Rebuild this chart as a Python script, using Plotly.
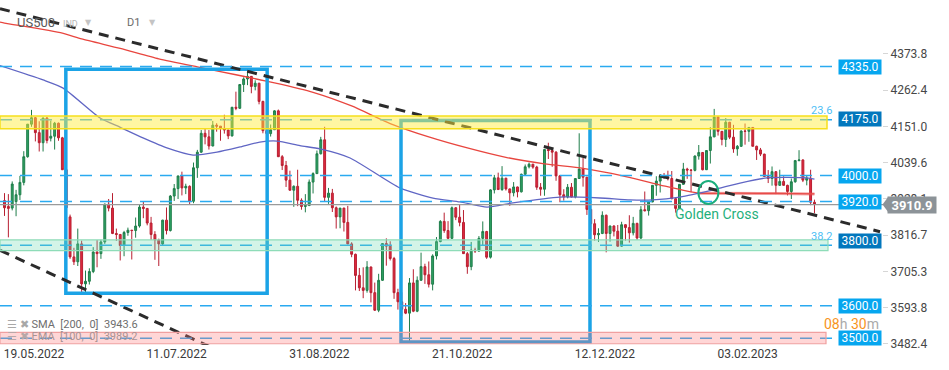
import plotly.graph_objects as go
import pandas as pd

# ---------------- data ----------------
opens = [3923, 3905, 3900, 3920, 3941, 3979, 4058, 4158, 4178, 4132,
         4101, 4177, 4115, 4121, 4161, 4116, 4018, 3873, 3750, 3735,
         3790, 3667, 3675, 3705, 3765, 3760, 3796, 3912, 3900, 3822,
         3819, 3785, 3825, 3832, 3831, 3845, 3903, 3899, 3854, 3819,
         3802, 3790, 3863, 3831, 3937, 3960, 3999, 3962, 3967, 3921,
         4024, 4072, 4130, 4119, 4091, 4155, 4152, 4145, 4140, 4122,
         4210, 4207, 4280, 4297, 4305, 4274, 4284, 4228, 4138, 4129,
         4141, 4199, 4058, 4031, 3986, 3955, 3967, 3924, 3905, 3908,
         3980, 4006, 4067, 4110, 3933, 3946, 3901, 3873, 3900, 3856,
         3790, 3758, 3693, 3655, 3647, 3719, 3640, 3586, 3678, 3791,
         3783, 3745, 3640, 3612, 3589, 3577, 3670, 3583, 3678, 3720,
         3695, 3666, 3753, 3797, 3859, 3831, 3807, 3901, 3872, 3856,
         3760, 3720, 3771, 3768, 3807, 3828, 3749, 3956, 3993, 3957,
         3992, 3959, 3947, 3965, 3950, 4004, 4027, 4035, 4026, 3964,
         3958, 4080, 4077, 4072, 3999, 3941, 3934, 3964, 3934, 3991,
         4020, 3995, 3896, 3852, 3818, 3822, 3878, 3822, 3845, 3829,
         3783, 3849, 3840, 3824, 3853, 3808, 3895, 3892, 3919, 3970,
         3983, 3999, 3996, 3991, 3929, 3899, 3973, 4020, 4017, 4016,
         4060, 4071, 4018, 4077, 4119, 4180, 4136, 4111, 4164, 4118,
         4082, 4090, 4137, 4136, 4148, 4090, 4079, 4066, 3997, 3991,
         4012, 3970, 3982, 3970, 3951, 3981, 4046, 4048, 3986, 3992,
         3918]
highs = [3946, 3943, 3982, 3956, 3999, 4075, 4158, 4202, 4180, 4167,
         4178, 4180, 4169, 4165, 4163, 4119, 4020, 3880, 3778, 3837,
         3800, 3708, 3715, 3780, 3802, 3803, 3914, 3928, 3946, 3837,
         3819, 3830, 3840, 3833, 3871, 3911, 3919, 3900, 3873, 3829,
         3806, 3864, 3902, 3940, 3974, 3999, 4012, 3975, 3970, 4040,
         4079, 4140, 4145, 4140, 4168, 4161, 4152, 4187, 4141, 4211,
         4258, 4281, 4302, 4325, 4306, 4293, 4285, 4230, 4160, 4157,
         4201, 4203, 4063, 4045, 4015, 3970, 4018, 3930, 3943, 3988,
         4010, 4077, 4119, 4150, 3962, 3959, 3905, 3900, 3901, 3907,
         3795, 3760, 3716, 3718, 3737, 3720, 3671, 3698, 3792, 3807,
         3798, 3750, 3652, 3641, 3608, 3685, 3712, 3690, 3763, 3729,
         3736, 3758, 3811, 3863, 3886, 3860, 3905, 3903, 3912, 3894,
         3765, 3796, 3778, 3814, 3859, 3830, 3958, 4002, 4009, 4029,
         3993, 3960, 3980, 3966, 4006, 4034, 4040, 4036, 4030, 3977,
         4080, 4101, 4081, 4075, 4002, 3958, 3974, 3977, 3991, 4130,
         4054, 3996, 3897, 3866, 3838, 3890, 3880, 3846, 3847, 3848,
         3858, 3850, 3878, 3873, 3855, 3906, 3951, 3920, 3970, 3998,
         4004, 4008, 4015, 4014, 3930, 3973, 4039, 4024, 4020, 4062,
         4094, 4072, 4077, 4149, 4205, 4182, 4137, 4177, 4165, 4156,
         4094, 4139, 4160, 4148, 4149, 4092, 4085, 4067, 4017, 4028,
         4013, 4018, 3998, 3972, 3991, 4048, 4078, 4050, 4000, 4018,
         3926]
lows = [3876, 3810, 3893, 3875, 3925, 3970, 4055, 4150, 4105, 4074,
        4074, 4099, 4105, 4080, 4107, 4017, 3900, 3744, 3725, 3722,
        3640, 3637, 3665, 3700, 3718, 3744, 3790, 3890, 3820, 3799,
        3739, 3752, 3815, 3742, 3809, 3840, 3869, 3847, 3802, 3741,
        3722, 3785, 3819, 3828, 3922, 3928, 3939, 3943, 3911, 3915,
        3993, 4070, 4096, 4080, 4090, 4135, 4107, 4129, 4112, 4120,
        4201, 4205, 4257, 4278, 4253, 4262, 4219, 4130, 4124, 4120,
        4140, 4057, 4017, 3965, 3954, 3904, 3906, 3895, 3887, 3906,
        3945, 4005, 4065, 3921, 3913, 3888, 3837, 3838, 3828, 3789,
        3749, 3647, 3645, 3623, 3640, 3610, 3584, 3580, 3676, 3723,
        3739, 3621, 3588, 3568, 3574, 3492, 3580, 3580, 3677, 3667,
        3656, 3647, 3742, 3795, 3824, 3804, 3805, 3863, 3844, 3759,
        3698, 3709, 3762, 3765, 3786, 3744, 3745, 3945, 3956, 3953,
        3954, 3907, 3936, 3933, 3948, 3999, 4022, 4021, 3956, 3938,
        3938, 4051, 4027, 3984, 3918, 3923, 3930, 3933, 3930, 3993,
        3966, 3879, 3828, 3800, 3796, 3820, 3764, 3797, 3813, 3781,
        3782, 3800, 3794, 3816, 3802, 3805, 3890, 3877, 3918, 3938,
        3948, 3990, 3985, 3927, 3886, 3898, 3972, 3990, 3949, 4013,
        4049, 4016, 4020, 4037, 4118, 4123, 4093, 4088, 4112, 4070,
        4061, 4088, 4095, 4104, 4090, 4048, 4060, 3997, 3977, 3969,
        3943, 3968, 3969, 3939, 3928, 3978, 4044, 3980, 3970, 3909,
        3884]
closes = [3901, 3899, 3974, 3941, 3979, 4058, 4158, 4178, 4132, 4101,
          4177, 4108, 4121, 4161, 4116, 4018, 3901, 3750, 3735, 3790,
          3667, 3675, 3705, 3765, 3760, 3796, 3912, 3900, 3822, 3819,
          3785, 3825, 3832, 3831, 3845, 3903, 3899, 3854, 3819, 3802,
          3790, 3863, 3831, 3937, 3960, 3999, 3962, 3967, 3921, 4024,
          4072, 4130, 4119, 4091, 4155, 4152, 4145, 4140, 4122, 4210,
          4207, 4280, 4297, 4305, 4274, 4284, 4228, 4138, 4129, 4141,
          4199, 4058, 4031, 3986, 3955, 3967, 3924, 3905, 3908, 3980,
          4006, 4067, 4110, 3933, 3946, 3901, 3873, 3900, 3856, 3790,
          3758, 3693, 3655, 3647, 3719, 3640, 3586, 3678, 3791, 3783,
          3745, 3640, 3612, 3589, 3577, 3670, 3583, 3678, 3720, 3695,
          3666, 3753, 3797, 3859, 3831, 3807, 3901, 3872, 3856, 3760,
          3720, 3771, 3768, 3807, 3828, 3749, 3956, 3993, 3957, 3992,
          3959, 3947, 3965, 3950, 4004, 4027, 4035, 4026, 3964, 3958,
          4080, 4077, 4072, 3999, 3941, 3934, 3964, 3934, 3991, 4020,
          3995, 3896, 3852, 3818, 3822, 3878, 3822, 3845, 3829, 3783,
          3849, 3840, 3824, 3853, 3808, 3895, 3892, 3919, 3970, 3983,
          3999, 3996, 3991, 3929, 3899, 3973, 4020, 4017, 4016, 4060,
          4071, 4018, 4077, 4119, 4180, 4136, 4111, 4164, 4118, 4082,
          4090, 4137, 4136, 4148, 4090, 4079, 4066, 3997, 3991, 4012,
          3970, 3982, 3970, 3951, 3981, 4046, 4048, 3986, 3992, 3918,
          3910.9]

# moving averages (bar index, price)
sma200_bar = [-1.2, 0, 15, 20, 30, 40, 50, 60, 70, 80, 90, 100, 110, 120,
              130, 140, 150, 160, 170, 180, 190, 200, 210]
sma200_val = [4472, 4469, 4438, 4420, 4391, 4359, 4334, 4310, 4285, 4256,
              4214, 4160, 4119, 4085, 4056, 4036, 4022, 4000, 3971, 3946,
              3946, 3945, 3943.6]
ema100_bar = [-1.2, 10, 15.2, 24.8, 29.9, 35.9, 42.1, 48.9, 55.1, 61.1,
              66.2, 70.7, 76.6, 81.8, 89.6, 102.5, 111.1, 118.1, 125.1,
              131.8, 144, 154.4, 162.2, 168.1, 175.1, 183.7, 190.7, 197.7,
              208.1, 210]
ema100_val = [4338, 4294, 4269, 4177, 4149, 4116, 4085, 4063, 4072, 4088,
              4103, 4106, 4092, 4082, 4054, 3962, 3931, 3919, 3903, 3916,
              3934, 3931, 3925, 3925, 3934, 3956, 3977, 3993, 3993, 3989.2]

# horizontal levels and zones
levels = [4335.0, 4000.0, 3920.0, 3600.0, 3500.0]
level_boxes = [4335.0, 4175.0, 4000.0, 3920.0, 3800.0, 3600.0, 3500.0]
level_dark = [4175.0, 3800.0]
fibo_levels = [4172.0, 3786.0]
fibo_names = ["23.6", "38.2"]
yellow_zone = [4144.0, 4183.0]
green_zone = [3769.0, 3802.0]
red_zone = [3483.0, 3518.0]
last_price = 3910.9

# drawings (bar index, price)
upper_trend = ([-1.17, 227.0], [4513.1, 3827.5])
lower_trend = ([-1.17, 59.8], [3770.3, 3438.0])
box1 = (15.9, 68.1, 3638.0, 4327.0)
box2 = (102.8, 151.8, 3488.0, 4169.0)
cross_ellipse = (179.9, 185.1, 3912.6, 3983.3)

# axis labels
y_ticks = [4373.8, 4262.4, 4151.0, 4039.6, 3928.1, 3816.7, 3705.3, 3593.8, 3482.4]
x_tick_bars = [0, 37, 74, 111, 148, 185, 222]
x_tick_text = ["19.05.2022", "11.07.2022", "31.08.2022", "21.10.2022",
               "12.12.2022", "03.02.2023", "22.03.2023"]

# trading days of the CFD
bd = pd.bdate_range("2022-05-19", "2023-03-10")
bd = [d for d in bd if d.strftime("%Y-%m-%d") not in ("2022-12-26", "2023-01-02")]
bd.append(pd.Timestamp("2022-11-06"))
bd = sorted(bd)
dates = [d.strftime("%d.%m.%Y") for d in bd]
bars = list(range(len(closes)))

# ---------------- geometry ----------------
W, H = 949, 370
PW, PH = 882, 345          # plot area in px
PX_PER_BAR = 3.857
X0 = -4.5 / PX_PER_BAR
XR = [X0, X0 + PW / PX_PER_BAR]
YR = [3479.1, 4539.8]


def px(x):
    return x / PW


def py(y):
    return (PH - y) / PH


FONT = "Roboto"
fig = go.Figure()

fig.add_trace(go.Candlestick(
    x=bars, open=opens, high=highs, low=lows, close=closes,
    text=dates, hoverinfo="skip",
    increasing=dict(line=dict(color="#1f7d4a", width=1), fillcolor="#2ea263"),
    decreasing=dict(line=dict(color="#b81f31", width=1), fillcolor="#e02a3f"),
    whiskerwidth=0,
))
fig.add_trace(go.Scatter(x=sma200_bar, y=sma200_val, mode="lines",
                         line=dict(color="#e8463f", width=1.3, shape="spline", smoothing=0.6),
                         hoverinfo="skip"))
fig.add_trace(go.Scatter(x=[b for b in sma200_bar if b >= 175],
                         y=[v for b, v in zip(sma200_bar, sma200_val) if b >= 175],
                         mode="lines", line=dict(color="rgba(232,80,80,0.55)", width=3),
                         hoverinfo="skip"))
fig.add_trace(go.Scatter(x=ema100_bar, y=ema100_val, mode="lines",
                         line=dict(color="#6066c4", width=1.3, shape="spline", smoothing=0.6),
                         hoverinfo="skip"))

shapes = []
BLUE_BOX = "#1ba3e6"
for b in (box1, box2):
    shapes.append(dict(type="rect", xref="x", yref="y", x0=b[0], x1=b[1], y0=b[2], y1=b[3],
                       line=dict(color=BLUE_BOX, width=3.5), fillcolor="rgba(0,0,0,0)"))
for tr in (upper_trend, lower_trend):
    shapes.append(dict(type="line", xref="x", yref="y", x0=tr[0][0], x1=tr[0][1],
                       y0=tr[1][0], y1=tr[1][1],
                       line=dict(color="#2b2b2b", width=3, dash="10px,7px")))
LEVEL_BLUE = "#2aaaf0"
for lv in levels + fibo_levels:
    shapes.append(dict(type="line", xref="paper", yref="y", x0=0, x1=px(838), y0=lv, y1=lv,
                       line=dict(color=LEVEL_BLUE, width=1.5, dash="12px,8px")))
shapes.append(dict(type="line", xref="paper", yref="y", x0=0, x1=px(883),
                   y0=last_price, y1=last_price, line=dict(color="#9a9a9a", width=1.3)))
shapes.append(dict(type="circle", xref="x", yref="y", x0=cross_ellipse[0], x1=cross_ellipse[1],
                   y0=cross_ellipse[2], y1=cross_ellipse[3],
                   line=dict(color="#1aae7c", width=2)))
# zones on top
shapes.append(dict(type="rect", xref="paper", yref="y", x0=0, x1=px(827),
                   y0=yellow_zone[0], y1=yellow_zone[1],
                   fillcolor="rgba(255,236,60,0.48)", line=dict(color="#f6df1c", width=1.5)))
shapes.append(dict(type="rect", xref="paper", yref="y", x0=0, x1=px(828),
                   y0=green_zone[0], y1=green_zone[1],
                   fillcolor="rgba(110,220,175,0.30)", line=dict(color="#8edcb8", width=1.2)))
shapes.append(dict(type="rect", xref="paper", yref="y", x0=0, x1=px(826),
                   y0=red_zone[0], y1=red_zone[1],
                   fillcolor="rgba(255,120,120,0.30)", line=dict(color="#f0a0a0", width=1.2)))
# arrow of the price tag
yl = (last_price - YR[0]) / (YR[1] - YR[0])
shapes.append(dict(type="path", xref="paper", yref="paper",
                   path=f"M {px(882.5)},{yl} L {px(888.5)},{yl + 8/PH} L {px(888.5)},{yl - 8/PH} Z",
                   fillcolor="#8c9398", line=dict(width=0)))

ann = []
for lv in level_boxes:
    ann.append(dict(xref="paper", yref="y", x=px(860), y=lv, text=f"{lv:.1f}",
                    bgcolor="#0277bd" if lv in level_dark else "#06a6ef",
                    font=dict(family=FONT, size=12, color="white"),
                    width=42, height=14, borderpad=0))
for lv, nm in zip(fibo_levels, fibo_names):
    ann.append(dict(xref="paper", yref="y", x=px(821), y=lv, yshift=9, text=nm,
                    font=dict(family=FONT, size=11, color="#4fc0f5")))
ann.append(dict(xref="paper", yref="paper", x=px(912.5), y=yl, text=f"<b>{last_price:.1f}</b>",
                bgcolor="#8c9398", width=48, height=16, borderpad=0,
                font=dict(family=FONT, size=13, color="white")))
ann.append(dict(xref="paper", yref="paper", x=px(717), y=py(214), text="Golden Cross",
                font=dict(family=FONT, size=14, color="#1fb07c")))
ann.append(dict(xref="paper", yref="paper", x=px(5), y=py(324), xanchor="left",
                text="<span style='color:#a8a8a8'>☰ ✖</span> SMA  [200,  0]  3943.6",
                font=dict(family=FONT, size=11, color="#6e6e6e")))
ann.append(dict(xref="paper", yref="paper", x=px(5), y=py(336.5), xanchor="left",
                text="<span style='color:#b8a8a8'>☰ ✖</span> EMA  [100,  0]  3989.2",
                font=dict(family=FONT, size=11, color="#a99393")))
ann.append(dict(xref="paper", yref="paper", x=px(851.5), y=py(323.5),
                text="<span style='color:#f7941d'>08</span><span style='color:#aaaaaa'>h </span>"
                     "<span style='color:#f7941d'>30</span><span style='color:#aaaaaa'>m</span>",
                font=dict(family=FONT, size=14)))
ann.append(dict(xref="paper", yref="paper", x=px(36), y=py(23), text="US500",
                font=dict(family=FONT, size=13, color="#5a5a5a")))
ann.append(dict(xref="paper", yref="paper", x=px(70), y=py(24), text="IND",
                font=dict(family=FONT, size=9, color="#b5b5b5")))
ann.append(dict(xref="paper", yref="paper", x=px(88), y=py(22), text="▼",
                font=dict(family="DejaVu Sans", size=8, color="#c4c4c4")))
ann.append(dict(xref="paper", yref="paper", x=px(133), y=py(23), text="D1",
                font=dict(family=FONT, size=11, color="#6a6a6a")))
ann.append(dict(xref="paper", yref="paper", x=px(152), y=py(22), text="▼",
                font=dict(family="DejaVu Sans", size=8, color="#c4c4c4")))
for a in ann:
    a.setdefault("xanchor", "center")
    a.setdefault("yanchor", "middle")
    a["showarrow"] = False

fig.update_layout(
    width=W, height=H, margin=dict(l=0, r=W - PW, t=0, b=H - PH),
    paper_bgcolor="white", plot_bgcolor="white", showlegend=False,
    shapes=shapes, annotations=ann,
    xaxis=dict(range=XR, showgrid=False, zeroline=False, showline=False,
               rangeslider=dict(visible=False), ticks="",
               tickvals=[b + 29.5 / PX_PER_BAR for b in x_tick_bars], ticktext=x_tick_text,
               tickfont=dict(family=FONT, size=12, color="#3a3a3a")),
    yaxis=dict(range=YR, side="right", showgrid=False, zeroline=False, showline=False,
               tickvals=y_ticks, ticktext=[f"{v:.1f}" for v in y_ticks],
               ticks="outside", ticklen=5, tickcolor="#d6d6d6",
               tickfont=dict(family=FONT, size=12, color="#474747")),
)

fig.write_html("out.html")
